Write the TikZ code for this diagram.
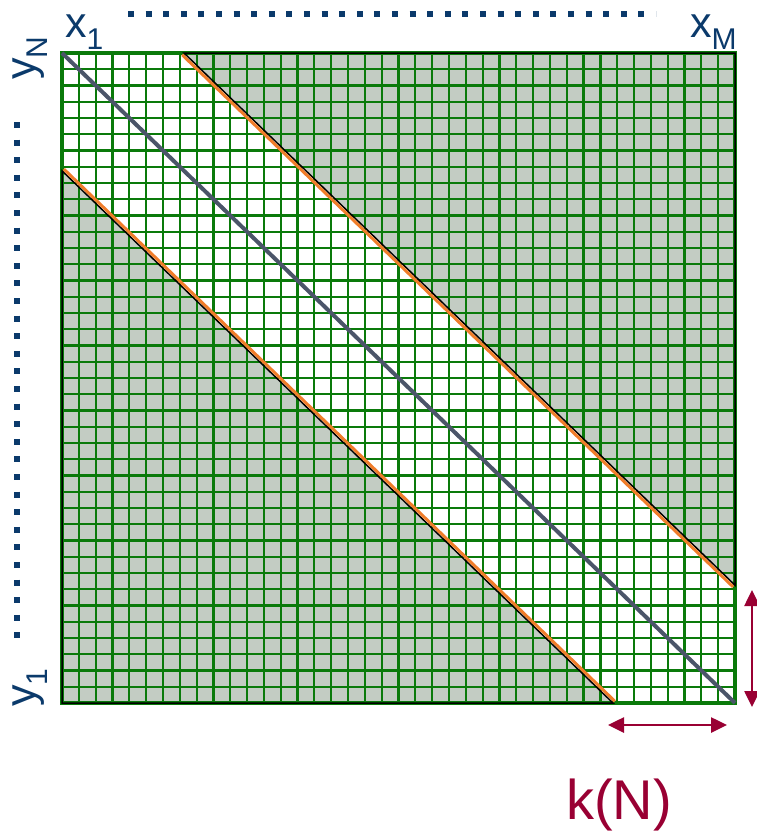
\documentclass[tikz,border=0pt]{standalone}
\usepackage{fontspec}
\setmainfont{Liberation Sans}
\usetikzlibrary{arrows.meta,positioning,calc}
\definecolor{gridgreen}{HTML}{0A7A0A}
\definecolor{bandgray}{HTML}{C3CCC3}
\definecolor{labelnavy}{HTML}{0B3A6B}
\definecolor{diagslate}{HTML}{4B5569}
\definecolor{edgeorange}{HTML}{F07D2A}
\definecolor{kmaroon}{HTML}{990033}
\newcommand{\axlabel}[2]{{\fontsize{43}{43}\selectfont #1}\raisebox{-12pt}{\fontsize{30}{30}\selectfont #2}}
\tikzset{
  gridline/.style={gridgreen, line width=2.2pt},
  border/.style={gridgreen, line width=4pt},
  zone/.style={fill=bandgray},
  zoneedge/.style={draw=black, line width=1.5pt, line join=miter},
  edgeline/.style={edgeorange, line width=3pt},
  diagline/.style={diagslate, line width=4pt},
  dotrow/.style={labelnavy, line width=6pt, dash pattern=on 6pt off 11.6pt},
  lbl/.style={text=labelnavy, inner sep=0pt, text height=24pt, text depth=13pt},
  karr/.style={{Triangle[length=16pt,width=15pt]}-{Triangle[length=16pt,width=15pt]}, kmaroon, line width=2.6pt},
}

\begin{document}
\begin{tikzpicture}[x=1pt, y=-1pt]
  \useasboundingbox (0,0) rectangle (756,831);
  % 40 x 40 cells, band half-width 7.25 cells
  \begin{scope}[shift={(62,53)}, x=16.825pt, y=-16.25pt]
    \coordinate (nw) at (0,0);
    \coordinate (se) at (40,40);
    \coordinate (ua) at (7.25,0);
    \coordinate (ub) at (40,0);
    \coordinate (uc) at (40,32.75);
    \coordinate (la) at (0,7.25);
    \coordinate (lb) at (0,40);
    \coordinate (lc) at (32.75,40);
    \fill[zone] (ua) -- (ub) -- (uc) -- cycle;
    \fill[zone] (la) -- (lb) -- (lc) -- cycle;
    \foreach \i in {1,...,39} {
      \draw[gridline] (\i,0) -- (\i,40);
      \draw[gridline] (0,\i) -- (40,\i);
    }
    \draw[border] (nw) rectangle (se);
    \draw[zoneedge] (ua) -- (ub) -- (uc) -- cycle;
    \draw[zoneedge] (la) -- (lb) -- (lc) -- cycle;
    \draw[edgeline] ([shift={(-1.8pt,-1.8pt)}]ua) -- ([shift={(-1.8pt,-1.8pt)}]uc);
    \draw[edgeline] ([shift={(1.8pt,1.8pt)}]la) -- ([shift={(1.8pt,1.8pt)}]lc);
    \draw[diagline] (nw) -- (se);
  \end{scope}

  % axis labels
  \node[lbl, anchor=base west] (xone) at (65,37) {\axlabel{x}{1}};
  \node[lbl, anchor=base west] (xlast) at (690,37) {\axlabel{x}{M}};
  \node[lbl, anchor=base west, rotate=90] (ylast) at (35,80) {\axlabel{y}{N}};
  \node[lbl, anchor=base west, rotate=90] (yone) at (35,707) {\axlabel{y}{1}};
  \coordinate (dxa) at (128,14);
  \coordinate (dxb) at (656,14);
  \coordinate (dya) at (17,122);
  \coordinate (dyb) at (17,641);
  \draw[dotrow] (dxa) -- (dxb);
  \draw[dotrow] (dya) -- (dyb);

  % band width
  \coordinate (kha) at (608,725);
  \coordinate (khb) at (727,725);
  \coordinate (kva) at (752,590);
  \coordinate (kvb) at (752,707);
  \draw[karr] (kha) -- (khb);
  \draw[karr] (kva) -- (kvb);
  \node[text=kmaroon, inner sep=0pt, text height=41pt, text depth=4pt, anchor=base, font=\fontsize{56}{56}\selectfont] (kn) at (619,819) {k(N)};
\end{tikzpicture}
\end{document}
